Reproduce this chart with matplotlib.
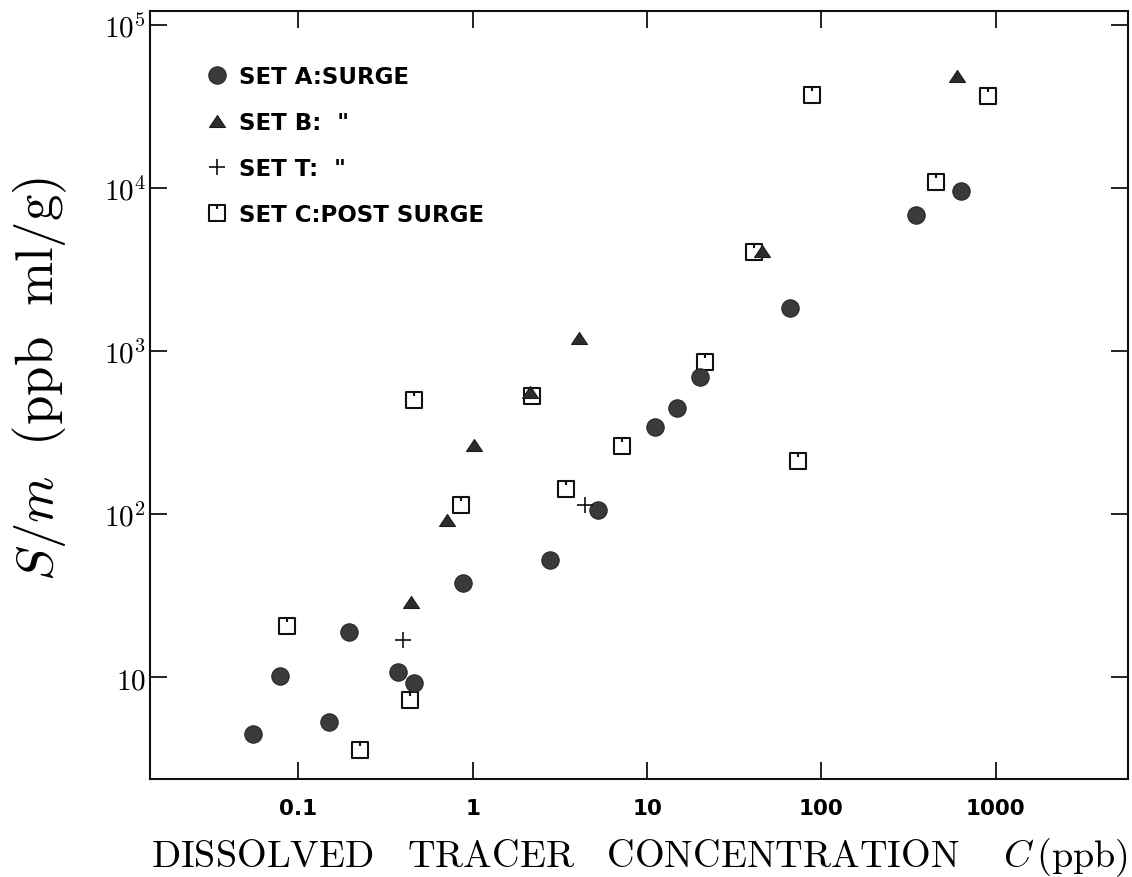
import matplotlib
matplotlib.use("Agg")
import matplotlib.pyplot as plt
from matplotlib.path import Path
from matplotlib.lines import Line2D
from matplotlib.ticker import FixedLocator, FixedFormatter, NullLocator

plt.rcParams['mathtext.fontset'] = 'cm'

# Set A: surge (filled circles)
set_a_c = [0.0548, 0.0785, 0.149, 0.194, 0.372, 0.463, 0.884, 2.78, 5.26,
           11.1, 14.8, 20.1, 66.1, 347, 630]
set_a_s = [4.49, 10.2, 5.30, 18.9, 10.7, 9.19, 37.7, 52.4, 106,
           341, 445, 690, 1827, 6820, 9530]

# Set B: surge (filled triangles)
set_b_c = [0.441, 0.710, 1.02, 2.13, 4.06, 45.5, 602]
set_b_s = [29.1, 92.5, 265, 563, 1200, 4120, 48700]

# Set T: surge (crosses)
set_t_c = [0.397, 4.41]
set_t_s = [16.9, 113]

# Set C: post surge (open squares)
set_c_c = [0.0858, 0.226, 0.437, 0.461, 0.854, 2.18, 3.43, 7.16, 21.5,
           41.3, 73.8, 88.0, 455, 900]
set_c_s = [20.7, 3.60, 7.26, 501, 114, 532, 143, 263, 852,
           4030, 211, 37100, 10800, 36700]

legend_labels = ['SET A:SURGE', 'SET B:  "', 'SET T:  "', 'SET C:POST SURGE']

x_ticks = [0.1, 1, 10, 100, 1000]
x_tick_labels = ['0.1', '1', '10', '100', '1000']
y_ticks = [10, 100, 1000, 10000, 100000]
y_tick_labels = [r'$\mathbf{10}$', r'$\mathbf{10}^{2}$', r'$\mathbf{10}^{3}$',
                 r'$\mathbf{10}^{4}$', r'$\mathbf{10}^{5}$']

# open square with a short notch hanging from the top edge
sq_path = Path([(-1, -1), (1, -1), (1, 1), (-1, 1), (-1, -1), (0, 1), (0, 0.45)],
               [Path.MOVETO, Path.LINETO, Path.LINETO, Path.LINETO, Path.CLOSEPOLY,
                Path.MOVETO, Path.LINETO])
tri_path = Path([(-1, -0.75), (1, -0.75), (0, 0.75), (-1, -0.75)],
                [Path.MOVETO, Path.LINETO, Path.LINETO, Path.CLOSEPOLY])

circ_kw = dict(marker='o', ms=12.5, mfc='#3a3a3a', mec='#262626', mew=0.8, ls='none')
tri_kw = dict(marker=tri_path, ms=11.5, mfc='#2c2c2c', mec='#1c1c1c', mew=0.8, ls='none')
plus_kw = dict(marker='+', ms=11.5, mec='#111111', mew=1.2, ls='none')
sq_kw = dict(marker=sq_path, ms=11.5, mfc='none', mec='#111111', mew=1.5, ls='none')

fig = plt.figure(figsize=(11.32, 8.78), dpi=100)
ax = fig.add_axes([150 / 1132, (878 - 780) / 878, 978 / 1132, 768 / 878])
ax.set_xscale('log')
ax.set_yscale('log')

ax.plot(set_c_c, set_c_s, **sq_kw)
ax.plot(set_a_c, set_a_s, **circ_kw)
ax.plot(set_b_c, set_b_s, **tri_kw)
ax.plot(set_t_c, set_t_s, **plus_kw)

ax.set_xlim(0.0141, 5740)
ax.set_ylim(2.38, 1.21e5)

ax.xaxis.set_major_locator(FixedLocator(x_ticks))
ax.xaxis.set_major_formatter(FixedFormatter(x_tick_labels))
ax.yaxis.set_major_locator(FixedLocator(y_ticks))
ax.yaxis.set_major_formatter(FixedFormatter(y_tick_labels))
ax.xaxis.set_minor_locator(NullLocator())
ax.yaxis.set_minor_locator(NullLocator())

ax.tick_params(which='major', direction='in', length=12, width=1.3,
               top=True, right=True, color='#111111')
ax.tick_params(axis='x', pad=14, labelsize=15.5)
ax.tick_params(axis='y', pad=3, labelsize=21)
for lab in ax.get_xticklabels():
    lab.set_fontfamily('DejaVu Sans')
    lab.set_fontweight('bold')
for sp in ax.spines.values():
    sp.set_linewidth(1.5)
    sp.set_color('#111111')

ax.set_xlabel(r'$\mathrm{DISSOLVED\ \ \ TRACER\ \ \ CONCENTRATION}\ \ \ \ C\,\mathrm{(ppb)}$',
              fontsize=27.5, labelpad=12)
ax.set_ylabel(r'$S/m\ \ \mathrm{(ppb\ \ ml/g)}$', fontsize=38)
ax.yaxis.set_label_coords(-0.083, 0.522)

handles = [Line2D([], [], **circ_kw), Line2D([], [], **tri_kw),
           Line2D([], [], **plus_kw), Line2D([], [], **sq_kw)]
ax.legend(handles, legend_labels, loc='upper left', bbox_to_anchor=(0.036, 0.956),
          frameon=False, handlelength=1.0, handletextpad=0.45, labelspacing=1.0,
          prop={'family': 'DejaVu Sans', 'weight': 'bold', 'size': 16.5})

fig.savefig('out.png', dpi=100, facecolor='white')
